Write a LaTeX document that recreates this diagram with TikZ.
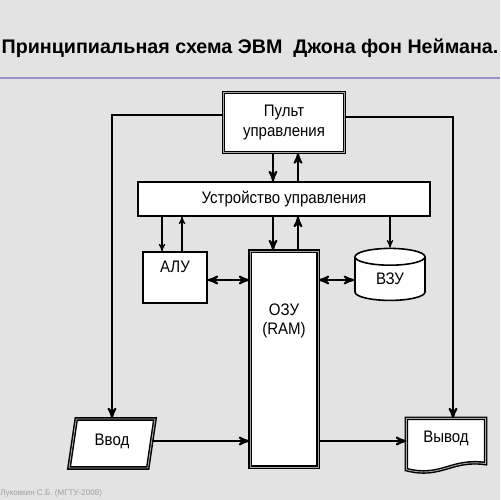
\documentclass[tikz,border=0pt]{standalone}
\usepackage{fontspec}
\setmainfont{Liberation Sans}
\newfontfamily\narrowfont[FakeStretch=0.9]{Liberation Sans}
\usetikzlibrary{calc,positioning,arrows,shapes.geometric}
\definecolor{slidegray}{RGB}{227,227,227}
\definecolor{rulepurple}{RGB}{150,148,200}
\definecolor{authorgray}{RGB}{160,160,160}
\pgfdeclarelayer{back}
\pgfsetlayers{back,main}
\tikzset{
	>=stealth',
	unit/.style={
		rectangle,
		draw=black, line width=0.7pt,
		fill=white,
		font=\narrowfont\fontsize{9.5}{11}\selectfont,
		align=center,
		inner sep=0pt},
	dblunit/.style={
		unit,
		double=gray!70, double distance=0.5pt,
		line width=0.8pt},
	store/.style={
		cylinder, shape border rotate=90, aspect=0.6,
		draw=black, line width=0.9pt,
		fill=white,
		font=\narrowfont\fontsize{9.5}{11}\selectfont,
		inner sep=0pt},
	inbox/.style={
		dblunit,
		trapezium, trapezium left angle=79, trapezium right angle=101,
		trapezium stretches=true},
	bus/.style={draw, line width=1.1pt, ->},
	wire/.style={draw, semithick, ->},
}

\begin{document}
\begin{tikzpicture}[x=0.02cm, y=-0.02cm]
\useasboundingbox (0,0) rectangle (500,500);
\node[font=\bfseries\fontsize{11.2}{14}\selectfont] (heading) at (250,48) {Принципиальная схема ЭВМ\ \ Джона фон Неймана.};
\node[text=authorgray, font=\fontsize{4.6}{5}\selectfont, anchor=west, inner sep=0pt] (author) at (0,493) {Луковкин С.Б. (МГТУ-2008)};
\coordinate (ruleL) at (0,78);
\coordinate (ruleR) at (500,78);
\draw[rulepurple, line width=0.6pt] (ruleL) -- (ruleR);

\node[dblunit, minimum width=24.2mm, minimum height=12mm] (panel) at (284,122.5) {Пульт\\управления};
\node[unit, minimum width=58.4mm, minimum height=6.8mm] (uu) at (284,199) {Устройство управления};
\node[unit, minimum width=12.8mm, minimum height=10.2mm, text depth=4.3mm] (alu) at (175,277.5) {АЛУ};
\node[dblunit, minimum width=13.6mm, minimum height=43.2mm, text depth=16mm] (ram) at (284,359) {ОЗУ\\(RAM)};
\node[store, minimum width=14mm, minimum height=10.4mm] (vzu) at (390,279) {ВЗУ};
\node[inbox, minimum width=17.2mm, minimum height=9.8mm, text depth=1.3mm] (in) at (112,443.5) {Ввод};
\node[unit, draw=none, fill=none, minimum width=15.6mm, minimum height=8.6mm, text depth=1.5mm] (out) at (446,440.5) {Вывод};

\begin{pgfonlayer}{back}
\fill[slidegray] (0,0) rectangle (500,500);
\draw[line width=0.8pt, double=gray!70, double distance=0.5pt, fill=white]
	($(out.south west)+(0,7)$) -- (out.north west) -- (out.north east) -- ($(out.south east)+(0,1)$)
	.. controls ($(out.south)+(5,-4)$) and ($(out.south)+(-5,16)$) .. ($(out.south west)+(0,7)$) -- cycle;
\end{pgfonlayer}

\draw[bus] ([xshift=-2.2mm]panel.south) -- ([xshift=-2.2mm]panel.south |- uu.north);
\draw[bus] ([xshift=2.8mm]uu.north) -- ([xshift=2.8mm]uu.north |- panel.south);
\draw[bus] ([xshift=-2.2mm]uu.south) -- ([xshift=-2.2mm]uu.south |- ram.north);
\draw[bus] ([xshift=2.8mm]ram.north) -- ([xshift=2.8mm]ram.north |- uu.south);

\draw[wire] ([xshift=-2.6mm]alu.north |- uu.south) -- ([xshift=-2.6mm]alu.north);
\draw[wire] ([xshift=1.4mm]alu.north) -- ([xshift=1.4mm]alu.north |- uu.south);
\draw[wire] (vzu.north |- uu.south) -- (vzu.north);

\draw[bus, <->] (alu.east |- 0,280) -- (ram.west |- 0,280);
\draw[bus, <->] (ram.east |- 0,280) -- (vzu.west |- 0,280);

\draw[bus] ([yshift=1.5mm]panel.west) -| (in.north);
\draw[bus] ([yshift=1.1mm]panel.east) -| ([xshift=1.4mm]out.north);
\draw[bus] (in.east |- 0,441) -- (ram.west |- 0,441);
\draw[bus] (ram.east |- 0,441) -- (out.west |- 0,441);
\end{tikzpicture}
\end{document}
